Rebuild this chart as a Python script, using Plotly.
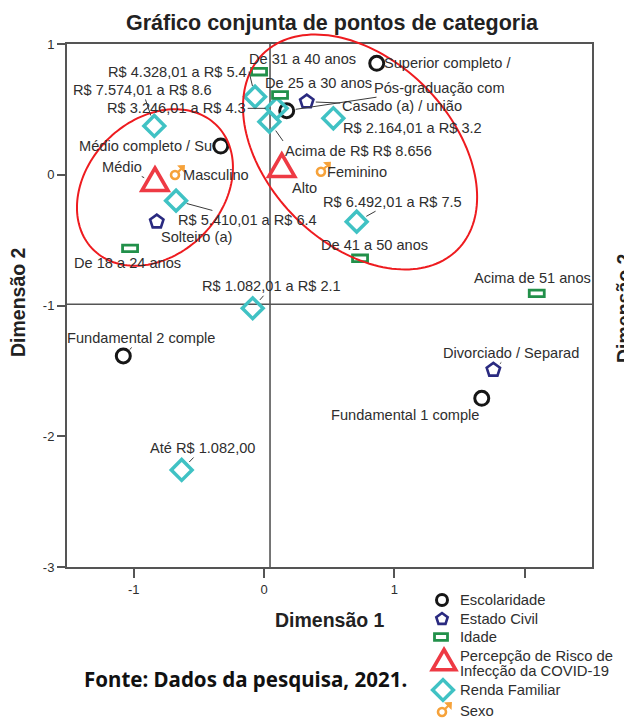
import numpy as np
import plotly.graph_objects as go

W, H = 624, 718
FONT = "Liberation Sans"
TXT = "#2e2e2e"

# ---------------- data ----------------
esc_labels = ["Superior completo /", "Pós-graduação com", "Médio completo / Su",
              "Fundamental 2 comple", "Fundamental 1 comple"]
esc_x = [0.865, 0.174, -0.332, -1.080, 1.671]
esc_y = [0.852, 0.490, 0.220, -1.386, -1.710]

civ_labels = ["Casado (a) / união", "Solteiro (a)", "Divorciado / Separad"]
civ_x = [0.328, -0.823, 1.760]
civ_y = [0.559, -0.359, -1.493]

ida_labels = ["De 18 a 24 anos", "De 25 a 30 anos", "De 31 a 40 anos",
              "De 41 a 50 anos", "Acima de 51 anos"]
ida_x = [-1.028, 0.123, -0.038, 0.737, 2.093]
ida_y = [-0.563, 0.610, 0.788, -0.639, -0.907]

per_labels = ["Médio", "Alto"]
per_x = [-0.837, 0.136]
per_y = [-0.063, 0.044]

ren_labels = ["Até R$ 1.082,00", "R$ 1.082,01 a R$ 2.1", "R$ 2.164,01 a R$ 3.2",
              "R$ 3.246,01 a R$ 4.3", "R$ 4.328,01 a R$ 5.4", "R$ 5.410,01 a R$ 6.4",
              "R$ 6.492,01 a R$ 7.5", "R$ 7.574,01 a R$ 8.6", "Acima de R$ R$ 8.656"]
ren_x = [-0.632, -0.087, 0.532, 0.097, -0.069, -0.675, 0.711, -0.842, 0.041]
ren_y = [-2.258, -1.021, 0.432, 0.508, 0.597, -0.198, -0.359, 0.373, 0.406]

sex_labels = ["Masculino", "Feminino"]
sex_x = [-0.683, 0.437]
sex_y = [-0.002, 0.023]

legend_names = ["Escolaridade", "Estado Civil", "Idade",
                "Percepção de Risco de", "Infecção da COVID-19",
                "Renda Familiar", "Sexo"]

x_ticks = [-1, 0, 1, 2]
x_ticktext = ["-1", "0", "1", ""]
y_ticks = [1, 0, -1, -2, -3]
y_ticktext = ["1", "0", "-1", "-2", "-3"]

# ---------------- style ----------------
C_ESC = "#161616"
C_CIV = "#2a2a80"
C_IDA = "#22904a"
C_PER = "#ee3a44"
C_REN = "#40c2c4"
C_SEX = "#f6a23a"
C_ELL = "#ee1b1f"
C_AX = "#555555"

PL, PR, PT, PB = 67, 592, 44, 567
XR = [-1.512, 2.517]
YR = [-3.0, 1.0]
xdom = [PL / W, PR / W]
ydom = [1 - PB / H, 1 - PT / H]


def px_x(x):
    return xdom[0] + (x - XR[0]) / (XR[1] - XR[0]) * (xdom[1] - xdom[0])


def px_y(y):
    return ydom[0] + (y - YR[0]) / (YR[1] - YR[0]) * (ydom[1] - ydom[0])


# label placement: (dx, dy in px, leader mode)
label_pos = {
    "Superior completo /": (71, 0, None),
    "Pós-graduação com": (153, -23, "c"),
    "Médio completo / Su": (-75, 0, None),
    "Fundamental 2 comple": (18, -18, "c"),
    "Fundamental 1 comple": (-77, 17, None),
    "Casado (a) / união": (95, 4, "c"),
    "Solteiro (a)": (40, 15, None),
    "Divorciado / Separad": (18, -17, "c"),
    "De 18 a 24 anos": (-3, 14.5, None),
    "De 25 a 30 anos": (38.5, -12, None),
    "De 31 a 40 anos": (43, -13, None),
    "De 41 a 50 anos": (14, -13, "c"),
    "Acima de 51 anos": (-4.5, -15, None),
    "Médio": (-32.5, -16, "c"),
    "Alto": (23, 19, None),
    "Até R$ 1.082,00": (21, -22, "c"),
    "R$ 1.082,01 a R$ 2.1": (19, -22, "c"),
    "R$ 2.164,01 a R$ 3.2": (79, 10, None),
    "R$ 3.246,01 a R$ 4.3": (-29, 0, ("right", "middle")),
    "R$ 4.328,01 a R$ 5.4": (-6, -25, ("right", "middle")),
    "R$ 5.410,01 a R$ 6.4": (71.5, 19.3, "c"),
    "R$ 6.492,01 a R$ 7.5": (36, -20, "c"),
    "R$ 7.574,01 a R$ 8.6": (-12, -36, "c"),
    "Acima de R$ R$ 8.656": (13.7, 19.3, ("left", "top")),
    "Masculino": (41, 0, None),
    "Feminino": (36.5, 0, None),
}

fig = go.Figure()

fig.add_trace(go.Scatter(x=esc_x, y=esc_y, mode="markers", name="Escolaridade", text=esc_labels,
                         marker=dict(symbol="circle-open", size=14, color=C_ESC,
                                     line=dict(width=3, color=C_ESC))))
fig.add_trace(go.Scatter(x=civ_x, y=civ_y, mode="markers", name="Estado Civil", text=civ_labels,
                         marker=dict(symbol="pentagon-open", size=14, color=C_CIV,
                                     line=dict(width=2.6, color=C_CIV))))
fig.add_trace(go.Scatter(x=ida_x, y=ida_y, mode="markers", name="Idade", text=ida_labels,
                         marker=dict(size=6, color=C_IDA, opacity=0)))
fig.add_trace(go.Scatter(x=per_x, y=per_y, mode="markers", name="Percepção", text=per_labels,
                         marker=dict(size=6, color=C_PER, opacity=0)))
fig.add_trace(go.Scatter(x=ren_x, y=ren_y, mode="markers", name="Renda Familiar", text=ren_labels,
                         marker=dict(symbol="diamond-open", size=16, color=C_REN,
                                     line=dict(width=3.5, color=C_REN))))
fig.add_trace(go.Scatter(x=sex_x, y=sex_y, mode="markers", name="Sexo", text=sex_labels,
                         marker=dict(symbol="circle-open", size=8, color=C_SEX,
                                     line=dict(width=2.6, color=C_SEX))))

shapes = []
TRI = "M0,15 L13,-7.5 L-13,-7.5 Z"
TRI_L = "M0,13.5 L11.7,-6.75 L-11.7,-6.75 Z"
MALE_ARROW = "M3,3 L6.3,6.3 M4.6,8.6 L8.8,8.8 L8.6,4.6 Z"

for x, y in zip(ida_x, ida_y):
    shapes.append(dict(type="rect", xref="x", yref="y", xsizemode="pixel", ysizemode="pixel",
                       xanchor=x, yanchor=y, x0=-7.5, x1=7.5, y0=-3.3, y1=3.3,
                       line=dict(color=C_IDA, width=2.8), fillcolor="white", layer="above"))
for x, y in zip(per_x, per_y):
    shapes.append(dict(type="path", xref="x", yref="y", xsizemode="pixel", ysizemode="pixel",
                       xanchor=x, yanchor=y, path=TRI,
                       line=dict(color=C_PER, width=3.6), fillcolor="rgba(0,0,0,0)", layer="above"))
for x, y in zip(sex_x, sex_y):
    shapes.append(dict(type="path", xref="x", yref="y", xsizemode="pixel", ysizemode="pixel",
                       xanchor=x, yanchor=y, path=MALE_ARROW,
                       line=dict(color=C_SEX, width=2.2), fillcolor=C_SEX, layer="above"))

# reference lines
shapes.append(dict(type="line", xref="x", yref="y domain", x0=0.046, x1=0.046, y0=0, y1=1,
                   line=dict(color=C_AX, width=1.6), layer="below"))
shapes.append(dict(type="line", xref="x domain", yref="y", x0=0, x1=1, y0=-0.99, y1=-0.99,
                   line=dict(color=C_AX, width=1.6), layer="below"))

# ellipses (highlight groups)
ellipses = [(0.737, 0.174, 1.057, 0.705, -45), (-0.837, -0.0975, 0.671, 0.516, 45)]
t = np.linspace(0, 2 * np.pi, 161)
for cx, cy, a, b, ang in ellipses:
    th = np.deg2rad(ang)
    ex = cx + a * np.cos(t) * np.cos(th) - b * np.sin(t) * np.sin(th)
    ey = cy + a * np.cos(t) * np.sin(th) + b * np.sin(t) * np.cos(th)
    path = "M" + " L".join(f"{px_x(u):.5f},{px_y(v):.5f}" for u, v in zip(ex, ey)) + " Z"
    shapes.append(dict(type="path", xref="paper", yref="paper", path=path,
                       line=dict(color=C_ELL, width=2), layer="above"))

# point labels
annotations = []
groups = [(esc_labels, esc_x, esc_y, 9), (civ_labels, civ_x, civ_y, 9), (ida_labels, ida_x, ida_y, 6),
          (per_labels, per_x, per_y, 12), (ren_labels, ren_x, ren_y, 11), (sex_labels, sex_x, sex_y, 7)]
for labs, xs, ys, so in groups:
    for lab, x, y in zip(labs, xs, ys):
        dx, dy, mode = label_pos[lab]
        base = dict(x=x, y=y, xref="x", yref="y", text=lab,
                    font=dict(family=FONT, size=14.6, color=TXT))
        if mode is None:
            base.update(showarrow=False, xshift=dx, yshift=-dy, xanchor="center", yanchor="middle")
        else:
            xa, ya = ("center", "middle") if mode == "c" else mode
            base.update(showarrow=True, ax=dx, ay=dy, arrowhead=0, arrowwidth=1,
                        arrowcolor="#3a3a3a", standoff=so, xanchor=xa, yanchor=ya)
        annotations.append(base)


def page_text(px, py, text, font, angle=0, xanchor="center"):
    return dict(x=px / W, y=1 - py / H, xref="paper", yref="paper", showarrow=False,
                xanchor=xanchor, yanchor="middle", textangle=angle, text=text, font=font)


TF = dict(family=FONT, size=19.5, color="#222")
annotations.append(page_text(330, 620, "<b>Dimensão 1</b>", TF))
annotations.append(page_text(18, 302, "<b>Dimensão 2</b>", TF, angle=-90))
annotations.append(page_text(611, 308, "<b>Dimensão 2</b>", TF, angle=-90, xanchor="left"))
annotations.append(page_text(245, 679, "<b>Fonte: Dados da pesquisa, 2021.</b>",
                             dict(family="Noto Sans", size=20.5, color="#111")))

# manual legend on a pixel-coordinate overlay axis
LX, TX = 442, 458
leg_rows = [600, 619, 637, 656, 671, 690, 711]
for name, ry in zip(legend_names, leg_rows):
    annotations.append(dict(x=TX, y=ry, xref="x2", yref="y2", showarrow=False, xanchor="left",
                            yanchor="middle", text=name, font=dict(family=FONT, size=14.8, color=TXT)))

fig.add_trace(go.Scatter(x=[LX], y=[600], xaxis="x2", yaxis="y2", mode="markers", showlegend=False,
                         hoverinfo="skip", marker=dict(symbol="circle-open", size=11, color=C_ESC,
                                                       line=dict(width=3, color=C_ESC))))
fig.add_trace(go.Scatter(x=[LX], y=[619], xaxis="x2", yaxis="y2", mode="markers", showlegend=False,
                         hoverinfo="skip", marker=dict(symbol="pentagon-open", size=12, color=C_CIV,
                                                       line=dict(width=2.6, color=C_CIV))))
fig.add_trace(go.Scatter(x=[LX + 1], y=[690], xaxis="x2", yaxis="y2", mode="markers", showlegend=False,
                         hoverinfo="skip", marker=dict(symbol="diamond-open", size=16, color=C_REN,
                                                       line=dict(width=3.5, color=C_REN))))
fig.add_trace(go.Scatter(x=[LX], y=[712], xaxis="x2", yaxis="y2", mode="markers", showlegend=False,
                         hoverinfo="skip", marker=dict(symbol="circle-open", size=8, color=C_SEX,
                                                       line=dict(width=2.6, color=C_SEX))))
shapes.append(dict(type="path", xref="x2", yref="y2", xsizemode="pixel", ysizemode="pixel",
                   xanchor=LX, yanchor=712, path=MALE_ARROW,
                   line=dict(color=C_SEX, width=2.2), fillcolor=C_SEX))
shapes.append(dict(type="rect", xref="x2", yref="y2", xsizemode="pixel", ysizemode="pixel",
                   xanchor=LX - 1, yanchor=637, x0=-6.5, x1=6.5, y0=-3.3, y1=3.3,
                   line=dict(color=C_IDA, width=2.8), fillcolor="white"))
shapes.append(dict(type="path", xref="x2", yref="y2", xsizemode="pixel", ysizemode="pixel",
                   xanchor=LX + 2, yanchor=663, path=TRI_L,
                   line=dict(color=C_PER, width=3.6), fillcolor="rgba(0,0,0,0)"))

axfont = dict(family=FONT, size=13, color=TXT)
fig.update_layout(
    width=W, height=H, margin=dict(l=0, r=0, t=0, b=0, pad=0, autoexpand=False),
    paper_bgcolor="white", plot_bgcolor="rgba(0,0,0,0)",
    showlegend=False,
    title=dict(text="<b>Gráfico conjunta de pontos de categoria</b>", x=332 / W, xanchor="center",
               y=1 - 22 / H, yanchor="middle", font=dict(family=FONT, size=21.5, color="#222")),
    xaxis=dict(domain=xdom, range=XR, tickvals=x_ticks, ticktext=x_ticktext, ticks="outside",
               ticklen=9, tickwidth=1.5, tickcolor=C_AX, showgrid=False, zeroline=False,
               showline=True, mirror=True, linecolor=C_AX, linewidth=2, tickfont=axfont,
               fixedrange=True, automargin=False),
    yaxis=dict(domain=ydom, range=YR, tickvals=y_ticks, ticktext=y_ticktext, ticks="outside",
               ticklen=8, tickwidth=1.5, tickcolor=C_AX, showgrid=False, zeroline=False,
               showline=True, mirror=True, linecolor=C_AX, linewidth=2, tickfont=axfont,
               fixedrange=True, automargin=False),
    xaxis2=dict(domain=[0, 1], range=[0, W], visible=False, anchor="y2", fixedrange=True,
                automargin=False),
    yaxis2=dict(domain=[0, 1], range=[H, 0], visible=False, anchor="x2", fixedrange=True,
                automargin=False),
    shapes=shapes, annotations=annotations,
)

fig.write_html("out.html", config={"displayModeBar": False},
               post_script="document.body.style.margin='0px';")
